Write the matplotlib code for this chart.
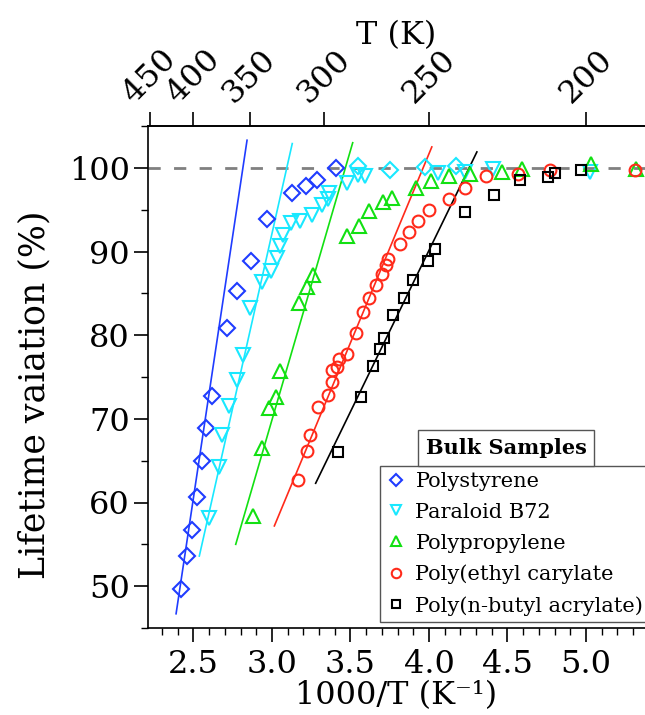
import matplotlib
matplotlib.use('Agg')
import matplotlib.pyplot as plt
from matplotlib.ticker import MultipleLocator, NullLocator, FormatStrFormatter

# ---------------- data ----------------
# x = 1000/T (K^-1), y = lifetime variation (%)
ps_x = [2.420, 2.457, 2.489, 2.520, 2.552, 2.578, 2.616, 2.715, 2.780, 2.864,
        2.970, 3.129, 3.217, 3.285, 3.408]
ps_y = [49.7, 53.6, 56.7, 60.7, 65.0, 68.9, 72.7, 80.9, 85.3, 88.9,
        93.9, 97.0, 97.8, 98.6, 100.0]

b72_x = [2.600, 2.664, 2.680, 2.728, 2.775, 2.817, 2.860, 2.934, 2.992, 3.030,
         3.051, 3.072, 3.119, 3.180, 3.255, 3.317, 3.359, 3.365, 3.476, 3.550,
         3.595, 4.060, 4.230, 4.410, 5.025]
b72_y = [58.1, 64.3, 68.1, 71.5, 74.6, 77.6, 83.3, 86.4, 87.7, 89.2,
         90.6, 92.0, 93.4, 93.6, 94.4, 95.5, 96.3, 97.0, 98.2, 99.2,
         99.0, 99.4, 99.5, 99.9, 99.5]

# cyan diamonds on the plateau (no legend entry)
b72d_x = [3.545, 3.749, 3.975, 4.170]
b72d_y = [100.2, 99.8, 100.1, 100.2]

pp_x = [2.881, 2.934, 2.983, 3.025, 3.051, 3.174, 3.221, 3.263, 3.476, 3.552,
        3.615, 3.710, 3.765, 3.920, 4.014, 4.130, 4.260, 4.466, 4.590, 5.030,
        5.320]
pp_y = [58.4, 66.5, 71.3, 72.6, 75.7, 83.8, 85.8, 87.2, 91.8, 93.1,
        94.8, 95.9, 96.4, 97.6, 98.4, 99.0, 99.3, 99.5, 99.9, 100.4,
        99.9]

pea_x = [3.168, 3.221, 3.242, 3.295, 3.359, 3.380, 3.384, 3.412, 3.429, 3.476,
         3.538, 3.578, 3.620, 3.663, 3.700, 3.727, 3.738, 3.814, 3.872, 3.932,
         3.997, 4.126, 4.229, 4.363, 4.567, 4.773, 5.310]
pea_y = [62.7, 66.2, 68.1, 71.4, 72.8, 74.4, 75.8, 76.2, 77.1, 77.8,
         80.3, 82.8, 84.5, 86.0, 87.3, 88.4, 89.1, 90.9, 92.3, 93.6,
         95.0, 96.3, 97.6, 99.0, 99.3, 99.8, 99.7]

pnba_x = [3.422, 3.570, 3.645, 3.690, 3.713, 3.773, 3.842, 3.900, 3.992, 4.040,
          4.229, 4.417, 4.578, 4.755, 4.805, 4.970]
pnba_y = [66.0, 72.6, 76.3, 78.3, 79.7, 82.4, 84.5, 86.6, 88.9, 90.3,
          94.7, 96.7, 98.6, 98.9, 99.4, 99.8]

# linear fit segments (end points)
ps_fit_x, ps_fit_y = [2.389, 2.841], [46.7, 103.3]
b72_fit_x, b72_fit_y = [2.537, 3.129], [53.6, 102.9]
pp_fit_x, pp_fit_y = [2.769, 3.514], [55.0, 103.0]
pea_fit_x, pea_fit_y = [3.015, 4.018], [57.2, 102.5]
pnba_fit_x, pnba_fit_y = [3.278, 4.305], [62.3, 101.9]

labels = ['Polystyrene', 'Paraloid B72', 'Polypropylene',
          'Poly(ethyl carylate', 'Poly(n-butyl acrylate)']
T_ticks = [450, 400, 350, 300, 250, 200]

# ---------------- style ----------------
plt.rcParams['font.family'] = ['DejaVu Serif']

c_blue = '#1f3cff'
c_cyan = '#19e8ff'
c_green = '#12e012'
c_red = '#ff2a1a'
c_black = '#000000'

fig = plt.figure(figsize=(6.45, 7.15), dpi=100)
ax = fig.add_axes([148/645, 87/715, 497/645, 502/715])

ax.axhline(100, color='#808080', lw=2.0, dashes=(4.4, 4.8), zorder=1)

for fx, fy, c in [(ps_fit_x, ps_fit_y, c_blue), (b72_fit_x, b72_fit_y, c_cyan),
                  (pp_fit_x, pp_fit_y, c_green), (pea_fit_x, pea_fit_y, c_red),
                  (pnba_fit_x, pnba_fit_y, c_black)]:
    ax.plot(fx, fy, color=c, lw=1.2, zorder=2)

mk = dict(ls='none', mfc='none', mew=1.5, zorder=3)
h1, = ax.plot(ps_x, ps_y, marker='D', ms=8, mec=c_blue, label=labels[0], **mk)
h2, = ax.plot(b72_x, b72_y, marker='v', ms=9.5, mec=c_cyan, label=labels[1], **mk)
ax.plot(b72d_x, b72d_y, marker='D', ms=8, mec=c_cyan, **mk)
h3, = ax.plot(pp_x, pp_y, marker='^', ms=9.5, mec=c_green, label=labels[2], **mk)
h4, = ax.plot(pea_x, pea_y, marker='o', ms=8.5, mec=c_red, label=labels[3], **mk)
h5, = ax.plot(pnba_x, pnba_y, marker='s', ms=7.0, mec=c_black, label=labels[4], **mk)

ax.set_xlim(2.2102, 5.3758)
ax.set_ylim(45, 105)

ax.xaxis.set_major_locator(MultipleLocator(0.5))
ax.xaxis.set_minor_locator(MultipleLocator(0.1))
ax.yaxis.set_major_locator(MultipleLocator(10))
ax.yaxis.set_minor_locator(MultipleLocator(5))
ax.xaxis.set_major_formatter(FormatStrFormatter('%.1f'))

ax.tick_params(axis='both', which='major', direction='out', length=10, width=1.2,
               labelsize=23)
ax.tick_params(axis='both', which='minor', direction='out', length=5, width=1.0)
ax.tick_params(axis='x', which='major', pad=5)
ax.tick_params(axis='y', which='major', pad=3)

for s in ['left', 'bottom', 'top']:
    ax.spines[s].set_linewidth(1.2)
ax.spines['right'].set_visible(False)

ax.set_xlabel('1000/T (K\u207b\u00b9)', fontsize=23, labelpad=0)
ax.set_ylabel('Lifetime vaiation (%)', fontsize=25)
ax.yaxis.set_label_coords(-0.195, 0.464)

inv = lambda v: 1000.0 / v
sec = ax.secondary_xaxis('top', functions=(inv, inv))
sec.set_xticks(T_ticks, labels=[str(t) for t in T_ticks])
sec.xaxis.set_minor_locator(NullLocator())
sec.tick_params(axis='x', which='major', direction='out', length=10, width=1.2,
                labelsize=23, labelrotation=45, pad=2)
sec.spines['top'].set_linewidth(1.2)
sec.set_xlabel('T (K)', fontsize=23, labelpad=0)

leg = ax.legend(handles=[h1, h2, h3, h4, h5], loc='lower left',
                bbox_to_anchor=(0.4668, 0.012), borderaxespad=0, fontsize=15,
                frameon=True, fancybox=False, edgecolor='#555555', framealpha=1,
                handlelength=0.9, handletextpad=0.5, labelspacing=0.57,
                borderpad=0.3, markerscale=0.8)
leg.get_frame().set_linewidth(1.0)
leg.set_zorder(5)

ax.text(0.7203, 0.3586, 'Bulk Samples', transform=ax.transAxes, ha='center',
        va='center', fontsize=15, fontweight='bold', zorder=6,
        bbox=dict(boxstyle='square,pad=0.38', fc='white', ec='#555555', lw=1.0))

fig.savefig('out.png', dpi=100)
